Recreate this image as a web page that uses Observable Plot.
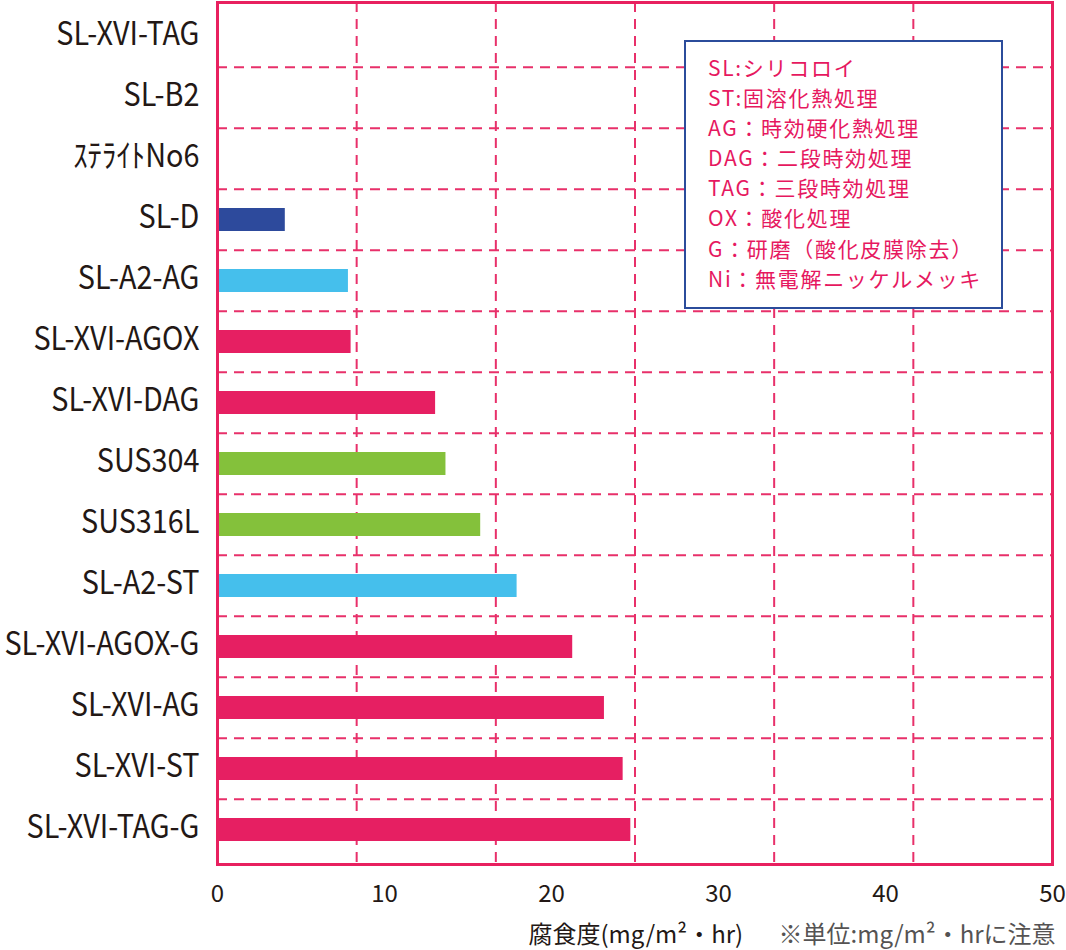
<!DOCTYPE html>
<html><head><meta charset="utf-8">
<script src="https://cdn.jsdelivr.net/npm/d3@7"></script>
<script src="https://cdn.jsdelivr.net/npm/@observablehq/plot@0.6"></script>
<style>
body{margin:0;background:#fff;}
#wrap{position:relative;width:1066px;height:950px;}
#legend{position:absolute;left:684px;top:40px;width:319px;height:269px;box-sizing:border-box;border:2px solid #2B4C9B;background:#fff;padding:10px 0 0 22px;font-family:"Noto Sans CJK JP";font-size:21px;letter-spacing:1.7px;line-height:30.1px;color:#E6185F;}
#legend div{white-space:nowrap;}
</style></head><body>
<div id="wrap"><div id="chart"></div><div id="legend"></div></div>
<script>
const categories = ["SL-XVI-TAG","SL-B2","ｽﾃﾗｲﾄNo6","SL-D","SL-A2-AG","SL-XVI-AGOX","SL-XVI-DAG","SUS304","SUS316L","SL-A2-ST","SL-XVI-AGOX-G","SL-XVI-AG","SL-XVI-ST","SL-XVI-TAG-G"];
const values = [null,null,null,4.06,7.84,8.0,13.06,13.68,15.76,17.94,21.27,23.17,24.29,24.75];
const groups = ["SL","SL","ST","SL-D","SL-A2","SL","SL","SUS","SUS","SL-A2","SL","SL","SL","SL"];
const groupNames = ["SL","SL-D","SL-A2","SUS","ST"];
const groupColors = ["#E61F62","#2D4A9C","#45BFEC","#84C13B","#999999"];
const xTicks = [0,10,20,30,40,50];
const xGrid = [8.333,16.667,25,33.333,41.667];
const legendLines = ["SL:シリコロイ","ST:固溶化熱処理","AG：時効硬化熱処理","DAG：二段時効処理","TAG：三段時効処理","OX：酸化処理","G：研磨（酸化皮膜除去）","Ni：無電解ニッケルメッキ"];
const xTitle = "腐食度(mg/m²・hr)";
const unitNote = "※単位:mg/m²・hrに注意";

const W = 1066, H = 950, mT = 2, mB = 86, mL = 217, mR = 14;
const step = (H - mT - mB) / categories.length;
const pink = "#E8205F";
const grid = "#E8306A";
const txt = "#231815";
const cjk = "'Noto Sans CJK JP',sans-serif";

const data = categories.map((c, i) => ({cat: c, value: values[i], group: groups[i]})).filter(d => d.value != null);

const chart = Plot.plot({
  width: W, height: H,
  marginTop: mT, marginBottom: mB, marginLeft: mL, marginRight: mR,
  style: {fontFamily: cjk, background: "#fff"},
  x: {domain: [0, 50]},
  y: {domain: categories, padding: 0},
  color: {domain: groupNames, range: groupColors},
  marks: [
    Plot.ruleX(xGrid, {stroke: grid, strokeWidth: 2, strokeDasharray: "10,7"}),
    Plot.ruleY(categories.slice(1), {dy: -step / 2, stroke: grid, strokeWidth: 2, strokeDasharray: "10,7"}),
    Plot.barX(data, {x: "value", y: "cat", fill: "group", insetTop: 19, insetBottom: 19}),
    Plot.axisY({tickSize: 0, tickPadding: 18, fontSize: 32, fill: txt, label: null, dy: -2.5, fontFamily: cjk}),
    Plot.axisX(xTicks, {tickSize: 0, tickPadding: 20, fontSize: 24, fill: txt, label: null, fontFamily: cjk}),
    Plot.text([xTitle], {text: d => d, frameAnchor: "bottom-left", textAnchor: "start", dx: 311, dy: 78, fontSize: 24, fill: txt, fontFamily: cjk}),
    Plot.text([unitNote], {text: d => d, frameAnchor: "bottom-left", textAnchor: "start", dx: 561, dy: 78, fontSize: 24, fill: "#555353", fontFamily: cjk}),
    Plot.frame({stroke: pink, strokeWidth: 3})
  ]
});
// condense the y-axis labels horizontally (the reference uses a condensed face)
chart.querySelectorAll('g[aria-label="y-axis tick label"]').forEach(g => {
  const ax = mL - 18;
  const old = g.getAttribute("transform") || "";
  g.setAttribute("transform", `translate(${ax},0) scale(0.9,1) translate(${-ax},0) ${old}`);
});
document.getElementById("chart").appendChild(chart);
const lg = document.getElementById("legend");
legendLines.forEach(t => { const d = document.createElement("div"); d.textContent = t; lg.appendChild(d); });
</script>
</body></html>
